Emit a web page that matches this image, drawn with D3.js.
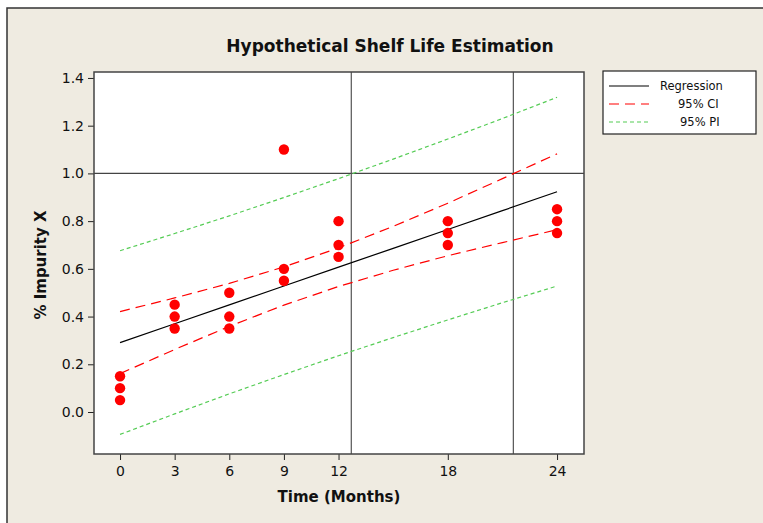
<!DOCTYPE html>
<html>
<head>
<meta charset="utf-8">
<script src="https://cdn.jsdelivr.net/npm/d3@7"></script>
<style>
  html, body { margin: 0; padding: 0; background: #fff; }
  svg { display: block; font-family: "DejaVu Sans", Verdana, sans-serif; }
</style>
</head>
<body>
<svg id="chart" width="763" height="523"></svg>
<script>
// observed impurity values (months, %)
const obsTime = [0, 0, 0, 3, 3, 3, 6, 6, 6, 9, 9, 9, 12, 12, 12, 18, 18, 18, 24, 24, 24];
const obsImpurity = [0.05, 0.10, 0.15, 0.35, 0.40, 0.45, 0.35, 0.40, 0.50, 0.55, 0.60, 1.10,
                     0.65, 0.70, 0.80, 0.70, 0.75, 0.80, 0.75, 0.80, 0.85];

// fitted curves
const fitTime = [0, 3, 6, 9, 12, 15, 18, 21, 24];
const regression = [0.291, 0.370, 0.449, 0.528, 0.607, 0.686, 0.765, 0.844, 0.923];
const ciUpper = [0.421, 0.478, 0.539, 0.608, 0.688, 0.778, 0.875, 0.978, 1.082];
const ciLower = [0.161, 0.262, 0.359, 0.448, 0.526, 0.594, 0.655, 0.710, 0.764];
const piUpper = [0.676, 0.748, 0.822, 0.899, 0.978, 1.060, 1.144, 1.230, 1.319];
const piLower = [-0.094, -0.008, 0.076, 0.157, 0.236, 0.312, 0.386, 0.458, 0.528];

// reference lines
const specLimit = 1.0;
const shelfLives = [12.7, 21.6];

const xTicks = [0, 3, 6, 9, 12, 18, 24];
const yTicks = [0.0, 0.2, 0.4, 0.6, 0.8, 1.0, 1.2, 1.4];

const legendItems = [
  { label: 'Regression', color: '#000', dash: null, dx: 0 },
  { label: '95% CI', color: '#ff0000', dash: '10 6', dx: 18 },
  { label: '95% PI', color: '#55cc55', dash: '4 3', dx: 20 }
];

const svg = d3.select('#chart');

// beige panel with border on the top/left edges
svg.append('rect').attr('x', 7).attr('y', 8).attr('width', 770).attr('height', 530)
  .attr('fill', '#efebe1').attr('stroke', '#333').attr('stroke-width', 1.5);

const plot = { left: 94, top: 72, right: 584, bottom: 454 };

const x = d3.scaleLinear().domain([-1.43, 25.48]).range([plot.left, plot.right]);
const y = d3.scaleLinear().domain([-0.176, 1.425]).range([plot.bottom, plot.top]);

svg.append('rect')
  .attr('x', plot.left).attr('y', plot.top)
  .attr('width', plot.right - plot.left).attr('height', plot.bottom - plot.top)
  .attr('fill', '#fff');

// axes
const xAxis = d3.axisBottom(x).tickValues(xTicks).tickSize(6).tickSizeOuter(0).tickFormat(d3.format('d'));
const yAxis = d3.axisLeft(y).tickValues(yTicks).tickSize(6).tickSizeOuter(0).tickFormat(d3.format('.1f'));

svg.append('g').attr('transform', `translate(0,${plot.bottom})`).call(xAxis)
  .call(g => g.select('.domain').remove())
  .call(g => g.selectAll('line').attr('stroke', '#222'))
  .call(g => g.selectAll('text').attr('font-size', 14).attr('fill', '#111').attr('dy', '0.95em')
    .attr('font-family', '"DejaVu Sans", sans-serif'));

svg.append('g').attr('transform', `translate(${plot.left},0)`).call(yAxis)
  .call(g => g.select('.domain').remove())
  .call(g => g.selectAll('line').attr('stroke', '#222'))
  .call(g => g.selectAll('text').attr('font-size', 14).attr('fill', '#111').attr('x', -10)
    .attr('font-family', '"DejaVu Sans", sans-serif'));

svg.append('clipPath').attr('id', 'clip').append('rect')
  .attr('x', plot.left).attr('y', plot.top)
  .attr('width', plot.right - plot.left).attr('height', plot.bottom - plot.top);

const body = svg.append('g').attr('clip-path', 'url(#clip)');

// reference lines
body.append('line')
  .attr('x1', plot.left).attr('x2', plot.right)
  .attr('y1', y(specLimit)).attr('y2', y(specLimit))
  .attr('stroke', '#444').attr('stroke-width', 1.2);
body.selectAll('.shelf').data(shelfLives).join('line').attr('class', 'shelf')
  .attr('x1', d => x(d)).attr('x2', d => x(d))
  .attr('y1', plot.top).attr('y2', plot.bottom)
  .attr('stroke', '#555').attr('stroke-width', 1.2);

const line = d3.line().x((d, i) => x(fitTime[i])).y(d => y(d));

function curve(values, color, dash) {
  body.append('path').datum(values)
    .attr('d', line)
    .attr('fill', 'none')
    .attr('stroke', color)
    .attr('stroke-width', 1.2)
    .attr('stroke-dasharray', dash);
}

curve(piUpper, '#55cc55', '4 3');
curve(piLower, '#55cc55', '4 3');
curve(ciUpper, '#ff0000', '10 6');
curve(ciLower, '#ff0000', '10 6');
curve(regression, '#000', null);

body.selectAll('circle').data(obsTime).join('circle')
  .attr('cx', d => x(d))
  .attr('cy', (d, i) => y(obsImpurity[i]))
  .attr('r', 5.2)
  .attr('fill', '#ff0000');

// frame
svg.append('rect')
  .attr('x', plot.left).attr('y', plot.top)
  .attr('width', plot.right - plot.left).attr('height', plot.bottom - plot.top)
  .attr('fill', 'none').attr('stroke', '#444').attr('stroke-width', 1.5);

// titles
svg.append('text').attr('x', 390).attr('y', 52).attr('text-anchor', 'middle')
  .attr('font-size', 17).attr('font-weight', 'bold').attr('fill', '#111')
  .text('Hypothetical Shelf Life Estimation');

svg.append('text').attr('x', 339).attr('y', 502).attr('text-anchor', 'middle')
  .attr('font-size', 15).attr('font-weight', 'bold').attr('fill', '#111')
  .text('Time (Months)');

svg.append('text').attr('transform', 'translate(46,265) rotate(-90)').attr('text-anchor', 'middle')
  .attr('font-size', 15).attr('font-weight', 'bold').attr('fill', '#111')
  .text('% Impurity X');

// legend
const legend = svg.append('g').attr('transform', 'translate(603,71)');
legend.append('rect').attr('width', 153).attr('height', 63)
  .attr('fill', '#fff').attr('stroke', '#222').attr('stroke-width', 1.2);
legendItems.forEach((d, i) => {
  const ly = 15 + i * 18;
  legend.append('line').attr('x1', 6).attr('x2', 46).attr('y1', ly).attr('y2', ly)
    .attr('stroke', d.color).attr('stroke-width', 1.2).attr('stroke-dasharray', d.dash);
  legend.append('text').attr('x', 57 + d.dx).attr('y', ly).attr('dy', '0.35em')
    .attr('font-size', 11.5).attr('fill', '#111').text(d.label);
});
</script>
</body>
</html>
